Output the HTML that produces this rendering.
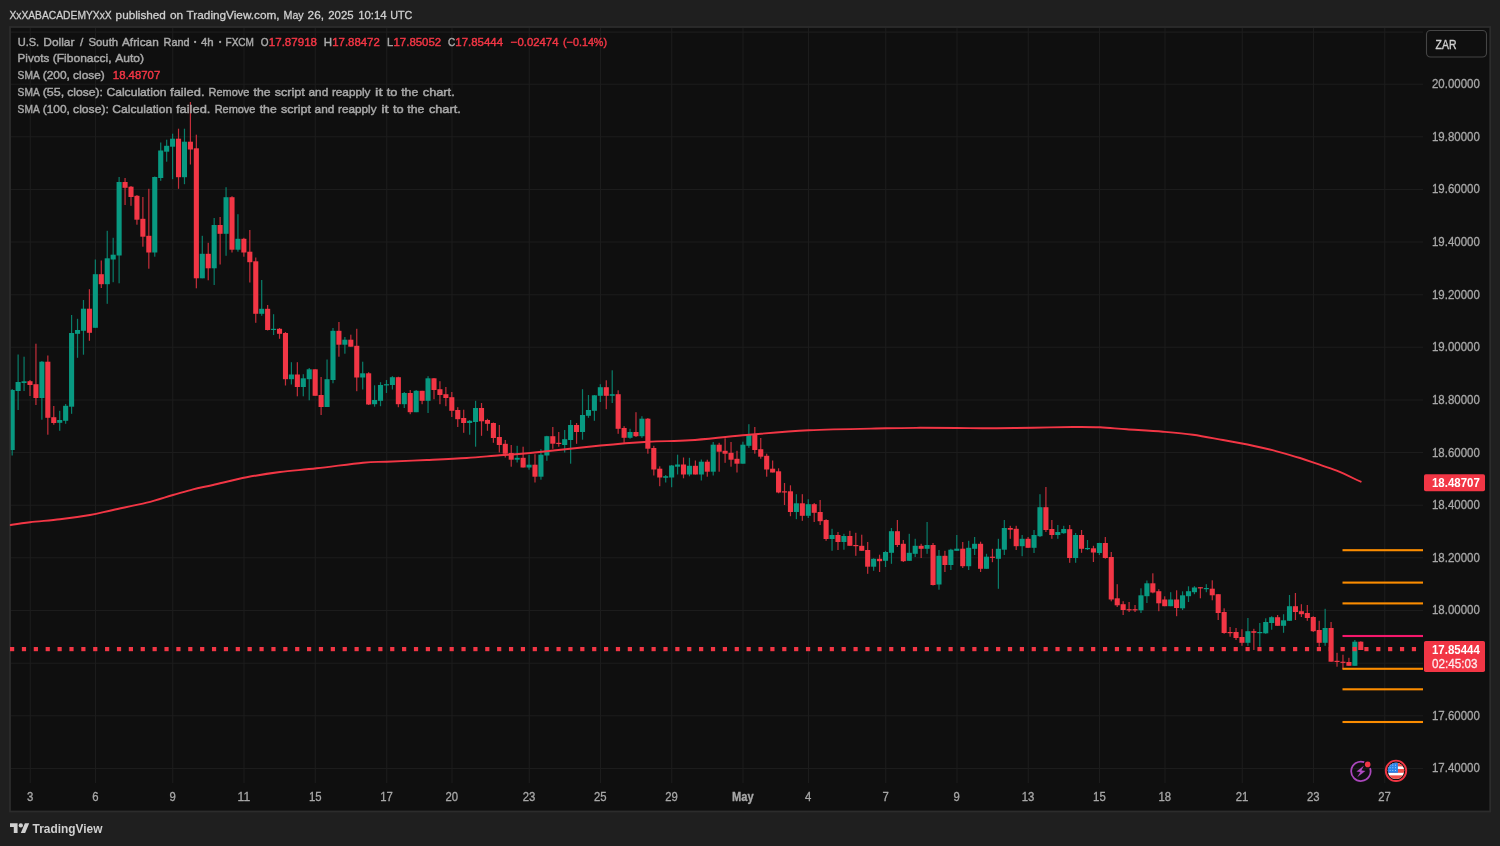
<!DOCTYPE html>
<html><head><meta charset="utf-8"><title>USDZAR chart</title>
<style>html,body{margin:0;padding:0;background:#1f1f1f;width:1500px;height:846px;overflow:hidden;font-family:'Liberation Sans', sans-serif;}</style>
</head><body>
<svg width="1500" height="846" viewBox="0 0 1500 846" style="display:block;position:absolute;left:0;top:0;will-change:transform">
<rect x="0" y="0" width="1500" height="846" fill="#1f1f1f"/>
<rect x="10" y="27" width="1480.2" height="784.5" fill="#0f0f0f" stroke="#2c2c2c" stroke-width="1.8"/>
<g stroke="#1c1c1c" stroke-width="1.1">
<line x1="30.25" y1="28" x2="30.25" y2="783"/>
<line x1="95.5" y1="28" x2="95.5" y2="783"/>
<line x1="172.75" y1="28" x2="172.75" y2="783"/>
<line x1="244.0" y1="28" x2="244.0" y2="783"/>
<line x1="315.25" y1="28" x2="315.25" y2="783"/>
<line x1="386.75" y1="28" x2="386.75" y2="783"/>
<line x1="452.0" y1="28" x2="452.0" y2="783"/>
<line x1="529.25" y1="28" x2="529.25" y2="783"/>
<line x1="600.5" y1="28" x2="600.5" y2="783"/>
<line x1="671.75" y1="28" x2="671.75" y2="783"/>
<line x1="743.0" y1="28" x2="743.0" y2="783"/>
<line x1="808.5" y1="28" x2="808.5" y2="783"/>
<line x1="885.75" y1="28" x2="885.75" y2="783"/>
<line x1="957.0" y1="28" x2="957.0" y2="783"/>
<line x1="1028.25" y1="28" x2="1028.25" y2="783"/>
<line x1="1099.5" y1="28" x2="1099.5" y2="783"/>
<line x1="1165.0" y1="28" x2="1165.0" y2="783"/>
<line x1="1242.25" y1="28" x2="1242.25" y2="783"/>
<line x1="1313.5" y1="28" x2="1313.5" y2="783"/>
<line x1="1384.75" y1="28" x2="1384.75" y2="783"/>
<line x1="11" y1="32.1" x2="1423" y2="32.1"/>
<line x1="11" y1="84.25" x2="1423" y2="84.25"/>
<line x1="11" y1="136.75" x2="1423" y2="136.75"/>
<line x1="11" y1="189.5" x2="1423" y2="189.5"/>
<line x1="11" y1="242.0" x2="1423" y2="242.0"/>
<line x1="11" y1="294.75" x2="1423" y2="294.75"/>
<line x1="11" y1="347.25" x2="1423" y2="347.25"/>
<line x1="11" y1="400.0" x2="1423" y2="400.0"/>
<line x1="11" y1="452.5" x2="1423" y2="452.5"/>
<line x1="11" y1="505.25" x2="1423" y2="505.25"/>
<line x1="11" y1="557.75" x2="1423" y2="557.75"/>
<line x1="11" y1="610.5" x2="1423" y2="610.5"/>
<line x1="11" y1="663.25" x2="1423" y2="663.25"/>
<line x1="11" y1="715.75" x2="1423" y2="715.75"/>
<line x1="11" y1="768.5" x2="1423" y2="768.5"/>
</g>
<clipPath id="pc"><rect x="10.7" y="27.7" width="1413" height="782"/></clipPath>
<g clip-path="url(#pc)">
<rect x="11.58" y="389.0" width="1.2" height="66.5" fill="#089981" opacity="0.8"/>
<rect x="9.63" y="390.0" width="5.1" height="60.0" fill="#089981"/>
<rect x="17.52" y="354.5" width="1.2" height="55.5" fill="#089981" opacity="0.8"/>
<rect x="15.57" y="382.0" width="5.1" height="9.0" fill="#089981"/>
<rect x="23.46" y="356.7" width="1.2" height="34.3" fill="#089981" opacity="0.8"/>
<rect x="21.51" y="381.3" width="5.1" height="1.7" fill="#089981"/>
<rect x="29.40" y="380.0" width="1.2" height="16.0" fill="#f23645" opacity="0.8"/>
<rect x="27.45" y="381.2" width="5.1" height="3.8" fill="#f23645"/>
<rect x="35.34" y="343.7" width="1.2" height="61.3" fill="#f23645" opacity="0.8"/>
<rect x="33.39" y="384.2" width="5.1" height="13.8" fill="#f23645"/>
<rect x="41.28" y="361.0" width="1.2" height="58.7" fill="#089981" opacity="0.8"/>
<rect x="39.34" y="361.7" width="5.1" height="36.3" fill="#089981"/>
<rect x="47.23" y="355.5" width="1.2" height="79.2" fill="#f23645" opacity="0.8"/>
<rect x="45.28" y="361.7" width="5.1" height="56.1" fill="#f23645"/>
<rect x="53.17" y="406.0" width="1.2" height="18.7" fill="#f23645" opacity="0.8"/>
<rect x="51.22" y="417.2" width="5.1" height="5.8" fill="#f23645"/>
<rect x="59.11" y="410.8" width="1.2" height="20.0" fill="#089981" opacity="0.8"/>
<rect x="57.16" y="420.0" width="5.1" height="2.8" fill="#089981"/>
<rect x="65.05" y="404.0" width="1.2" height="19.8" fill="#089981" opacity="0.8"/>
<rect x="63.10" y="405.8" width="5.1" height="15.0" fill="#089981"/>
<rect x="70.99" y="315.0" width="1.2" height="98.8" fill="#089981" opacity="0.8"/>
<rect x="69.04" y="333.0" width="5.1" height="73.7" fill="#089981"/>
<rect x="76.93" y="318.8" width="1.2" height="39.0" fill="#089981" opacity="0.8"/>
<rect x="74.98" y="330.0" width="5.1" height="3.8" fill="#089981"/>
<rect x="82.87" y="300.0" width="1.2" height="54.7" fill="#089981" opacity="0.8"/>
<rect x="80.92" y="308.7" width="5.1" height="22.1" fill="#089981"/>
<rect x="88.81" y="289.2" width="1.2" height="51.6" fill="#f23645" opacity="0.8"/>
<rect x="86.86" y="308.7" width="5.1" height="24.1" fill="#f23645"/>
<rect x="94.75" y="259.5" width="1.2" height="68.3" fill="#089981" opacity="0.8"/>
<rect x="92.80" y="274.2" width="5.1" height="53.6" fill="#089981"/>
<rect x="100.69" y="260.5" width="1.2" height="27.5" fill="#f23645" opacity="0.8"/>
<rect x="98.74" y="274.2" width="5.1" height="10.0" fill="#f23645"/>
<rect x="106.64" y="230.8" width="1.2" height="73.0" fill="#089981" opacity="0.8"/>
<rect x="104.69" y="258.3" width="5.1" height="25.9" fill="#089981"/>
<rect x="112.58" y="237.8" width="1.2" height="44.4" fill="#089981" opacity="0.8"/>
<rect x="110.63" y="254.7" width="5.1" height="4.8" fill="#089981"/>
<rect x="118.52" y="177.0" width="1.2" height="106.3" fill="#089981" opacity="0.8"/>
<rect x="116.57" y="182.0" width="5.1" height="73.5" fill="#089981"/>
<rect x="124.46" y="178.0" width="1.2" height="27.0" fill="#f23645" opacity="0.8"/>
<rect x="122.51" y="182.0" width="5.1" height="5.8" fill="#f23645"/>
<rect x="130.40" y="186.0" width="1.2" height="19.8" fill="#f23645" opacity="0.8"/>
<rect x="128.45" y="186.7" width="5.1" height="10.3" fill="#f23645"/>
<rect x="136.34" y="195.0" width="1.2" height="29.7" fill="#f23645" opacity="0.8"/>
<rect x="134.39" y="195.8" width="5.1" height="23.9" fill="#f23645"/>
<rect x="142.28" y="197.0" width="1.2" height="49.7" fill="#f23645" opacity="0.8"/>
<rect x="140.33" y="218.8" width="5.1" height="17.9" fill="#f23645"/>
<rect x="148.22" y="188.8" width="1.2" height="79.9" fill="#f23645" opacity="0.8"/>
<rect x="146.27" y="235.8" width="5.1" height="16.7" fill="#f23645"/>
<rect x="154.16" y="176.5" width="1.2" height="80.2" fill="#089981" opacity="0.8"/>
<rect x="152.21" y="177.0" width="5.1" height="75.5" fill="#089981"/>
<rect x="160.11" y="142.5" width="1.2" height="38.3" fill="#089981" opacity="0.8"/>
<rect x="158.16" y="150.5" width="5.1" height="27.5" fill="#089981"/>
<rect x="166.05" y="139.7" width="1.2" height="22.0" fill="#089981" opacity="0.8"/>
<rect x="164.10" y="145.8" width="5.1" height="5.9" fill="#089981"/>
<rect x="171.99" y="133.7" width="1.2" height="45.5" fill="#089981" opacity="0.8"/>
<rect x="170.04" y="138.7" width="5.1" height="8.0" fill="#089981"/>
<rect x="177.93" y="128.7" width="1.2" height="60.1" fill="#f23645" opacity="0.8"/>
<rect x="175.98" y="138.7" width="5.1" height="38.5" fill="#f23645"/>
<rect x="183.87" y="128.7" width="1.2" height="55.5" fill="#089981" opacity="0.8"/>
<rect x="181.92" y="141.7" width="5.1" height="35.5" fill="#089981"/>
<rect x="189.81" y="102.0" width="1.2" height="62.5" fill="#f23645" opacity="0.8"/>
<rect x="187.86" y="141.7" width="5.1" height="7.8" fill="#f23645"/>
<rect x="195.75" y="134.7" width="1.2" height="153.6" fill="#f23645" opacity="0.8"/>
<rect x="193.80" y="148.3" width="5.1" height="130.0" fill="#f23645"/>
<rect x="201.69" y="235.8" width="1.2" height="42.5" fill="#089981" opacity="0.8"/>
<rect x="199.74" y="253.8" width="5.1" height="24.5" fill="#089981"/>
<rect x="207.63" y="242.8" width="1.2" height="37.5" fill="#f23645" opacity="0.8"/>
<rect x="205.68" y="253.8" width="5.1" height="14.5" fill="#f23645"/>
<rect x="213.57" y="218.0" width="1.2" height="67.0" fill="#089981" opacity="0.8"/>
<rect x="211.62" y="225.0" width="5.1" height="43.3" fill="#089981"/>
<rect x="219.52" y="217.0" width="1.2" height="47.5" fill="#f23645" opacity="0.8"/>
<rect x="217.56" y="225.0" width="5.1" height="8.8" fill="#f23645"/>
<rect x="225.46" y="187.2" width="1.2" height="68.6" fill="#089981" opacity="0.8"/>
<rect x="223.51" y="197.2" width="5.1" height="36.6" fill="#089981"/>
<rect x="231.40" y="196.2" width="1.2" height="56.3" fill="#f23645" opacity="0.8"/>
<rect x="229.45" y="197.2" width="5.1" height="52.5" fill="#f23645"/>
<rect x="237.34" y="214.2" width="1.2" height="37.5" fill="#089981" opacity="0.8"/>
<rect x="235.39" y="238.8" width="5.1" height="10.9" fill="#089981"/>
<rect x="243.28" y="237.8" width="1.2" height="18.9" fill="#f23645" opacity="0.8"/>
<rect x="241.33" y="238.8" width="5.1" height="13.7" fill="#f23645"/>
<rect x="249.22" y="230.0" width="1.2" height="52.5" fill="#f23645" opacity="0.8"/>
<rect x="247.27" y="251.7" width="5.1" height="10.5" fill="#f23645"/>
<rect x="255.16" y="257.5" width="1.2" height="65.3" fill="#f23645" opacity="0.8"/>
<rect x="253.21" y="261.3" width="5.1" height="52.5" fill="#f23645"/>
<rect x="261.10" y="280.0" width="1.2" height="35.8" fill="#089981" opacity="0.8"/>
<rect x="259.15" y="308.8" width="5.1" height="5.0" fill="#089981"/>
<rect x="267.04" y="305.0" width="1.2" height="25.5" fill="#f23645" opacity="0.8"/>
<rect x="265.09" y="308.8" width="5.1" height="21.2" fill="#f23645"/>
<rect x="272.98" y="314.2" width="1.2" height="20.8" fill="#089981" opacity="0.8"/>
<rect x="271.03" y="328.8" width="5.1" height="1.2" fill="#089981"/>
<rect x="278.92" y="328.0" width="1.2" height="10.8" fill="#f23645" opacity="0.8"/>
<rect x="276.97" y="328.8" width="5.1" height="5.0" fill="#f23645"/>
<rect x="284.87" y="332.0" width="1.2" height="53.5" fill="#f23645" opacity="0.8"/>
<rect x="282.92" y="333.0" width="5.1" height="46.2" fill="#f23645"/>
<rect x="290.81" y="362.2" width="1.2" height="22.3" fill="#089981" opacity="0.8"/>
<rect x="288.86" y="374.5" width="5.1" height="4.7" fill="#089981"/>
<rect x="296.75" y="362.2" width="1.2" height="34.1" fill="#f23645" opacity="0.8"/>
<rect x="294.80" y="374.5" width="5.1" height="12.5" fill="#f23645"/>
<rect x="302.69" y="374.2" width="1.2" height="22.1" fill="#089981" opacity="0.8"/>
<rect x="300.74" y="378.3" width="5.1" height="8.7" fill="#089981"/>
<rect x="308.63" y="368.0" width="1.2" height="32.3" fill="#089981" opacity="0.8"/>
<rect x="306.68" y="369.3" width="5.1" height="9.9" fill="#089981"/>
<rect x="314.57" y="369.3" width="1.2" height="26.5" fill="#f23645" opacity="0.8"/>
<rect x="312.62" y="369.3" width="5.1" height="26.5" fill="#f23645"/>
<rect x="320.51" y="377.0" width="1.2" height="38.0" fill="#f23645" opacity="0.8"/>
<rect x="318.56" y="395.0" width="5.1" height="12.0" fill="#f23645"/>
<rect x="326.45" y="359.5" width="1.2" height="47.5" fill="#089981" opacity="0.8"/>
<rect x="324.50" y="379.2" width="5.1" height="27.8" fill="#089981"/>
<rect x="332.39" y="328.0" width="1.2" height="55.3" fill="#089981" opacity="0.8"/>
<rect x="330.44" y="330.8" width="5.1" height="49.2" fill="#089981"/>
<rect x="338.33" y="322.0" width="1.2" height="34.7" fill="#f23645" opacity="0.8"/>
<rect x="336.38" y="330.8" width="5.1" height="13.9" fill="#f23645"/>
<rect x="344.28" y="337.0" width="1.2" height="16.7" fill="#089981" opacity="0.8"/>
<rect x="342.33" y="339.7" width="5.1" height="5.0" fill="#089981"/>
<rect x="350.22" y="334.7" width="1.2" height="12.0" fill="#f23645" opacity="0.8"/>
<rect x="348.27" y="339.7" width="5.1" height="7.0" fill="#f23645"/>
<rect x="356.16" y="328.8" width="1.2" height="62.4" fill="#f23645" opacity="0.8"/>
<rect x="354.21" y="345.8" width="5.1" height="31.7" fill="#f23645"/>
<rect x="362.10" y="361.7" width="1.2" height="27.8" fill="#089981" opacity="0.8"/>
<rect x="360.15" y="373.3" width="5.1" height="4.2" fill="#089981"/>
<rect x="368.04" y="372.2" width="1.2" height="32.8" fill="#f23645" opacity="0.8"/>
<rect x="366.09" y="373.3" width="5.1" height="31.2" fill="#f23645"/>
<rect x="373.98" y="385.3" width="1.2" height="21.4" fill="#089981" opacity="0.8"/>
<rect x="372.03" y="400.0" width="5.1" height="4.2" fill="#089981"/>
<rect x="379.92" y="382.2" width="1.2" height="24.0" fill="#089981" opacity="0.8"/>
<rect x="377.97" y="385.0" width="5.1" height="15.8" fill="#089981"/>
<rect x="385.86" y="380.0" width="1.2" height="13.0" fill="#089981" opacity="0.8"/>
<rect x="383.91" y="384.2" width="5.1" height="1.2" fill="#089981"/>
<rect x="391.80" y="376.2" width="1.2" height="13.3" fill="#089981" opacity="0.8"/>
<rect x="389.85" y="377.2" width="5.1" height="7.8" fill="#089981"/>
<rect x="397.74" y="376.7" width="1.2" height="30.5" fill="#f23645" opacity="0.8"/>
<rect x="395.79" y="377.2" width="5.1" height="27.0" fill="#f23645"/>
<rect x="403.69" y="392.0" width="1.2" height="16.0" fill="#089981" opacity="0.8"/>
<rect x="401.74" y="393.0" width="5.1" height="11.2" fill="#089981"/>
<rect x="409.63" y="390.0" width="1.2" height="24.2" fill="#f23645" opacity="0.8"/>
<rect x="407.68" y="393.0" width="5.1" height="19.2" fill="#f23645"/>
<rect x="415.57" y="390.0" width="1.2" height="22.2" fill="#089981" opacity="0.8"/>
<rect x="413.62" y="390.8" width="5.1" height="21.4" fill="#089981"/>
<rect x="421.51" y="390.8" width="1.2" height="13.4" fill="#f23645" opacity="0.8"/>
<rect x="419.56" y="390.8" width="5.1" height="10.0" fill="#f23645"/>
<rect x="427.45" y="376.2" width="1.2" height="36.8" fill="#089981" opacity="0.8"/>
<rect x="425.50" y="378.3" width="5.1" height="22.5" fill="#089981"/>
<rect x="433.39" y="378.0" width="1.2" height="21.2" fill="#f23645" opacity="0.8"/>
<rect x="431.44" y="378.3" width="5.1" height="11.7" fill="#f23645"/>
<rect x="439.33" y="381.2" width="1.2" height="23.0" fill="#f23645" opacity="0.8"/>
<rect x="437.38" y="389.2" width="5.1" height="5.8" fill="#f23645"/>
<rect x="445.27" y="387.0" width="1.2" height="19.2" fill="#f23645" opacity="0.8"/>
<rect x="443.32" y="394.2" width="5.1" height="3.8" fill="#f23645"/>
<rect x="451.21" y="392.0" width="1.2" height="25.0" fill="#f23645" opacity="0.8"/>
<rect x="449.26" y="397.2" width="5.1" height="13.6" fill="#f23645"/>
<rect x="457.15" y="407.2" width="1.2" height="19.8" fill="#f23645" opacity="0.8"/>
<rect x="455.20" y="410.0" width="5.1" height="9.2" fill="#f23645"/>
<rect x="463.10" y="409.7" width="1.2" height="23.1" fill="#f23645" opacity="0.8"/>
<rect x="461.15" y="418.0" width="5.1" height="5.0" fill="#f23645"/>
<rect x="469.04" y="420.0" width="1.2" height="14.7" fill="#089981" opacity="0.8"/>
<rect x="467.09" y="420.8" width="5.1" height="2.2" fill="#089981"/>
<rect x="474.98" y="400.8" width="1.2" height="45.9" fill="#089981" opacity="0.8"/>
<rect x="473.03" y="408.0" width="5.1" height="14.0" fill="#089981"/>
<rect x="480.92" y="403.0" width="1.2" height="32.8" fill="#f23645" opacity="0.8"/>
<rect x="478.97" y="408.0" width="5.1" height="13.3" fill="#f23645"/>
<rect x="486.86" y="418.8" width="1.2" height="12.0" fill="#f23645" opacity="0.8"/>
<rect x="484.91" y="420.0" width="5.1" height="3.8" fill="#f23645"/>
<rect x="492.80" y="422.5" width="1.2" height="20.3" fill="#f23645" opacity="0.8"/>
<rect x="490.85" y="423.0" width="5.1" height="15.0" fill="#f23645"/>
<rect x="498.74" y="425.0" width="1.2" height="27.5" fill="#f23645" opacity="0.8"/>
<rect x="496.79" y="437.0" width="5.1" height="8.0" fill="#f23645"/>
<rect x="504.68" y="440.0" width="1.2" height="17.5" fill="#f23645" opacity="0.8"/>
<rect x="502.73" y="443.8" width="5.1" height="10.0" fill="#f23645"/>
<rect x="510.62" y="445.0" width="1.2" height="21.7" fill="#f23645" opacity="0.8"/>
<rect x="508.67" y="453.0" width="5.1" height="6.7" fill="#f23645"/>
<rect x="516.56" y="445.8" width="1.2" height="16.7" fill="#089981" opacity="0.8"/>
<rect x="514.62" y="457.8" width="5.1" height="1.9" fill="#089981"/>
<rect x="522.51" y="446.7" width="1.2" height="20.8" fill="#f23645" opacity="0.8"/>
<rect x="520.56" y="457.8" width="5.1" height="9.7" fill="#f23645"/>
<rect x="528.45" y="454.7" width="1.2" height="15.0" fill="#089981" opacity="0.8"/>
<rect x="526.50" y="464.7" width="5.1" height="2.8" fill="#089981"/>
<rect x="534.39" y="454.2" width="1.2" height="28.3" fill="#f23645" opacity="0.8"/>
<rect x="532.44" y="464.7" width="5.1" height="12.0" fill="#f23645"/>
<rect x="540.33" y="449.2" width="1.2" height="30.5" fill="#089981" opacity="0.8"/>
<rect x="538.38" y="454.7" width="5.1" height="22.0" fill="#089981"/>
<rect x="546.27" y="435.8" width="1.2" height="25.0" fill="#089981" opacity="0.8"/>
<rect x="544.32" y="436.2" width="5.1" height="19.3" fill="#089981"/>
<rect x="552.21" y="427.0" width="1.2" height="21.8" fill="#f23645" opacity="0.8"/>
<rect x="550.26" y="436.2" width="5.1" height="7.5" fill="#f23645"/>
<rect x="558.15" y="432.0" width="1.2" height="14.7" fill="#f23645" opacity="0.8"/>
<rect x="556.20" y="442.8" width="5.1" height="1.2" fill="#f23645"/>
<rect x="564.09" y="430.0" width="1.2" height="22.5" fill="#089981" opacity="0.8"/>
<rect x="562.14" y="439.2" width="5.1" height="5.8" fill="#089981"/>
<rect x="570.03" y="420.0" width="1.2" height="43.7" fill="#089981" opacity="0.8"/>
<rect x="568.08" y="425.0" width="5.1" height="15.0" fill="#089981"/>
<rect x="575.97" y="423.0" width="1.2" height="20.8" fill="#f23645" opacity="0.8"/>
<rect x="574.02" y="425.0" width="5.1" height="7.0" fill="#f23645"/>
<rect x="581.92" y="389.2" width="1.2" height="50.5" fill="#089981" opacity="0.8"/>
<rect x="579.97" y="415.0" width="5.1" height="17.0" fill="#089981"/>
<rect x="587.86" y="395.0" width="1.2" height="22.8" fill="#089981" opacity="0.8"/>
<rect x="585.91" y="410.0" width="5.1" height="5.8" fill="#089981"/>
<rect x="593.80" y="395.0" width="1.2" height="25.8" fill="#089981" opacity="0.8"/>
<rect x="591.85" y="395.3" width="5.1" height="15.5" fill="#089981"/>
<rect x="599.74" y="384.2" width="1.2" height="17.8" fill="#089981" opacity="0.8"/>
<rect x="597.79" y="387.2" width="5.1" height="8.6" fill="#089981"/>
<rect x="605.68" y="380.3" width="1.2" height="28.9" fill="#f23645" opacity="0.8"/>
<rect x="603.73" y="387.2" width="5.1" height="8.6" fill="#f23645"/>
<rect x="611.62" y="370.3" width="1.2" height="32.7" fill="#089981" opacity="0.8"/>
<rect x="609.67" y="394.2" width="5.1" height="1.6" fill="#089981"/>
<rect x="617.56" y="390.3" width="1.2" height="43.5" fill="#f23645" opacity="0.8"/>
<rect x="615.61" y="394.2" width="5.1" height="34.6" fill="#f23645"/>
<rect x="623.50" y="426.2" width="1.2" height="16.6" fill="#f23645" opacity="0.8"/>
<rect x="621.55" y="428.0" width="5.1" height="9.8" fill="#f23645"/>
<rect x="629.44" y="428.8" width="1.2" height="9.9" fill="#089981" opacity="0.8"/>
<rect x="627.49" y="432.0" width="5.1" height="5.8" fill="#089981"/>
<rect x="635.38" y="412.2" width="1.2" height="24.8" fill="#f23645" opacity="0.8"/>
<rect x="633.43" y="432.0" width="5.1" height="4.2" fill="#f23645"/>
<rect x="641.33" y="416.2" width="1.2" height="21.6" fill="#089981" opacity="0.8"/>
<rect x="639.38" y="418.7" width="5.1" height="17.5" fill="#089981"/>
<rect x="647.27" y="418.0" width="1.2" height="35.7" fill="#f23645" opacity="0.8"/>
<rect x="645.32" y="418.7" width="5.1" height="30.0" fill="#f23645"/>
<rect x="653.21" y="445.8" width="1.2" height="29.7" fill="#f23645" opacity="0.8"/>
<rect x="651.26" y="448.0" width="5.1" height="21.5" fill="#f23645"/>
<rect x="659.15" y="466.3" width="1.2" height="19.9" fill="#f23645" opacity="0.8"/>
<rect x="657.20" y="468.7" width="5.1" height="8.8" fill="#f23645"/>
<rect x="665.09" y="475.0" width="1.2" height="7.5" fill="#089981" opacity="0.8"/>
<rect x="663.14" y="476.2" width="5.1" height="1.6" fill="#089981"/>
<rect x="671.03" y="465.0" width="1.2" height="22.2" fill="#089981" opacity="0.8"/>
<rect x="669.08" y="465.5" width="5.1" height="12.0" fill="#089981"/>
<rect x="676.97" y="454.7" width="1.2" height="19.8" fill="#089981" opacity="0.8"/>
<rect x="675.02" y="464.5" width="5.1" height="2.2" fill="#089981"/>
<rect x="682.91" y="457.5" width="1.2" height="20.8" fill="#f23645" opacity="0.8"/>
<rect x="680.96" y="464.5" width="5.1" height="10.0" fill="#f23645"/>
<rect x="688.85" y="457.8" width="1.2" height="18.5" fill="#089981" opacity="0.8"/>
<rect x="686.90" y="465.8" width="5.1" height="8.7" fill="#089981"/>
<rect x="694.79" y="460.5" width="1.2" height="14.0" fill="#f23645" opacity="0.8"/>
<rect x="692.85" y="465.8" width="5.1" height="8.7" fill="#f23645"/>
<rect x="700.74" y="459.5" width="1.2" height="21.0" fill="#089981" opacity="0.8"/>
<rect x="698.79" y="461.7" width="5.1" height="12.8" fill="#089981"/>
<rect x="706.68" y="459.7" width="1.2" height="17.0" fill="#f23645" opacity="0.8"/>
<rect x="704.73" y="461.7" width="5.1" height="10.0" fill="#f23645"/>
<rect x="712.62" y="442.0" width="1.2" height="33.5" fill="#089981" opacity="0.8"/>
<rect x="710.67" y="444.7" width="5.1" height="27.0" fill="#089981"/>
<rect x="718.56" y="442.8" width="1.2" height="28.9" fill="#f23645" opacity="0.8"/>
<rect x="716.61" y="444.7" width="5.1" height="7.0" fill="#f23645"/>
<rect x="724.50" y="438.3" width="1.2" height="24.5" fill="#f23645" opacity="0.8"/>
<rect x="722.55" y="450.8" width="5.1" height="2.9" fill="#f23645"/>
<rect x="730.44" y="442.0" width="1.2" height="24.7" fill="#f23645" opacity="0.8"/>
<rect x="728.49" y="452.8" width="5.1" height="6.9" fill="#f23645"/>
<rect x="736.38" y="450.8" width="1.2" height="21.7" fill="#f23645" opacity="0.8"/>
<rect x="734.43" y="458.8" width="5.1" height="4.9" fill="#f23645"/>
<rect x="742.32" y="441.7" width="1.2" height="22.0" fill="#089981" opacity="0.8"/>
<rect x="740.37" y="444.7" width="5.1" height="19.0" fill="#089981"/>
<rect x="748.26" y="424.2" width="1.2" height="23.6" fill="#089981" opacity="0.8"/>
<rect x="746.31" y="434.2" width="5.1" height="11.6" fill="#089981"/>
<rect x="754.20" y="427.0" width="1.2" height="26.7" fill="#f23645" opacity="0.8"/>
<rect x="752.25" y="434.2" width="5.1" height="15.8" fill="#f23645"/>
<rect x="760.15" y="438.0" width="1.2" height="20.7" fill="#f23645" opacity="0.8"/>
<rect x="758.20" y="449.2" width="5.1" height="7.5" fill="#f23645"/>
<rect x="766.09" y="453.7" width="1.2" height="23.0" fill="#f23645" opacity="0.8"/>
<rect x="764.14" y="455.8" width="5.1" height="13.7" fill="#f23645"/>
<rect x="772.03" y="460.5" width="1.2" height="12.0" fill="#f23645" opacity="0.8"/>
<rect x="770.08" y="468.7" width="5.1" height="3.8" fill="#f23645"/>
<rect x="777.97" y="468.3" width="1.2" height="25.0" fill="#f23645" opacity="0.8"/>
<rect x="776.02" y="471.3" width="5.1" height="21.2" fill="#f23645"/>
<rect x="783.91" y="483.0" width="1.2" height="22.0" fill="#f23645" opacity="0.8"/>
<rect x="781.96" y="491.3" width="5.1" height="1.2" fill="#f23645"/>
<rect x="789.85" y="485.3" width="1.2" height="30.9" fill="#f23645" opacity="0.8"/>
<rect x="787.90" y="491.3" width="5.1" height="20.7" fill="#f23645"/>
<rect x="795.79" y="494.2" width="1.2" height="25.0" fill="#089981" opacity="0.8"/>
<rect x="793.84" y="503.3" width="5.1" height="8.7" fill="#089981"/>
<rect x="801.73" y="494.2" width="1.2" height="26.6" fill="#f23645" opacity="0.8"/>
<rect x="799.78" y="503.3" width="5.1" height="12.5" fill="#f23645"/>
<rect x="807.67" y="499.2" width="1.2" height="18.8" fill="#089981" opacity="0.8"/>
<rect x="805.72" y="504.2" width="5.1" height="11.6" fill="#089981"/>
<rect x="813.61" y="503.0" width="1.2" height="19.0" fill="#f23645" opacity="0.8"/>
<rect x="811.66" y="504.2" width="5.1" height="8.6" fill="#f23645"/>
<rect x="819.56" y="500.0" width="1.2" height="25.0" fill="#f23645" opacity="0.8"/>
<rect x="817.61" y="512.0" width="5.1" height="9.2" fill="#f23645"/>
<rect x="825.50" y="519.2" width="1.2" height="21.6" fill="#f23645" opacity="0.8"/>
<rect x="823.55" y="520.0" width="5.1" height="19.0" fill="#f23645"/>
<rect x="831.44" y="528.8" width="1.2" height="22.0" fill="#089981" opacity="0.8"/>
<rect x="829.49" y="535.0" width="5.1" height="4.0" fill="#089981"/>
<rect x="837.38" y="532.0" width="1.2" height="18.0" fill="#f23645" opacity="0.8"/>
<rect x="835.43" y="535.0" width="5.1" height="7.0" fill="#f23645"/>
<rect x="843.32" y="533.8" width="1.2" height="15.9" fill="#089981" opacity="0.8"/>
<rect x="841.37" y="536.0" width="5.1" height="6.0" fill="#089981"/>
<rect x="849.26" y="530.8" width="1.2" height="15.0" fill="#f23645" opacity="0.8"/>
<rect x="847.31" y="536.0" width="5.1" height="9.8" fill="#f23645"/>
<rect x="855.20" y="532.8" width="1.2" height="23.0" fill="#f23645" opacity="0.8"/>
<rect x="853.25" y="545.0" width="5.1" height="1.2" fill="#f23645"/>
<rect x="861.14" y="534.7" width="1.2" height="16.1" fill="#f23645" opacity="0.8"/>
<rect x="859.19" y="545.8" width="5.1" height="5.0" fill="#f23645"/>
<rect x="867.08" y="542.0" width="1.2" height="31.8" fill="#f23645" opacity="0.8"/>
<rect x="865.13" y="550.0" width="5.1" height="16.7" fill="#f23645"/>
<rect x="873.02" y="558.3" width="1.2" height="12.5" fill="#089981" opacity="0.8"/>
<rect x="871.07" y="558.8" width="5.1" height="7.9" fill="#089981"/>
<rect x="878.97" y="554.7" width="1.2" height="17.3" fill="#f23645" opacity="0.8"/>
<rect x="877.02" y="558.8" width="5.1" height="2.4" fill="#f23645"/>
<rect x="884.91" y="550.8" width="1.2" height="16.2" fill="#089981" opacity="0.8"/>
<rect x="882.96" y="552.0" width="5.1" height="8.8" fill="#089981"/>
<rect x="890.85" y="528.0" width="1.2" height="35.8" fill="#089981" opacity="0.8"/>
<rect x="888.90" y="531.2" width="5.1" height="21.6" fill="#089981"/>
<rect x="896.79" y="520.0" width="1.2" height="27.0" fill="#f23645" opacity="0.8"/>
<rect x="894.84" y="531.2" width="5.1" height="13.8" fill="#f23645"/>
<rect x="902.73" y="540.0" width="1.2" height="22.0" fill="#f23645" opacity="0.8"/>
<rect x="900.78" y="543.8" width="5.1" height="17.4" fill="#f23645"/>
<rect x="908.67" y="533.8" width="1.2" height="27.0" fill="#089981" opacity="0.8"/>
<rect x="906.72" y="552.8" width="5.1" height="8.0" fill="#089981"/>
<rect x="914.61" y="538.8" width="1.2" height="18.2" fill="#089981" opacity="0.8"/>
<rect x="912.66" y="545.8" width="5.1" height="8.0" fill="#089981"/>
<rect x="920.55" y="543.8" width="1.2" height="14.2" fill="#f23645" opacity="0.8"/>
<rect x="918.60" y="545.8" width="5.1" height="3.0" fill="#f23645"/>
<rect x="926.49" y="522.0" width="1.2" height="31.8" fill="#089981" opacity="0.8"/>
<rect x="924.54" y="545.0" width="5.1" height="3.8" fill="#089981"/>
<rect x="932.43" y="543.0" width="1.2" height="42.5" fill="#f23645" opacity="0.8"/>
<rect x="930.49" y="545.0" width="5.1" height="40.0" fill="#f23645"/>
<rect x="938.38" y="550.0" width="1.2" height="39.7" fill="#089981" opacity="0.8"/>
<rect x="936.43" y="555.8" width="5.1" height="28.7" fill="#089981"/>
<rect x="944.32" y="550.8" width="1.2" height="21.2" fill="#f23645" opacity="0.8"/>
<rect x="942.37" y="555.8" width="5.1" height="9.2" fill="#f23645"/>
<rect x="950.26" y="548.8" width="1.2" height="21.2" fill="#089981" opacity="0.8"/>
<rect x="948.31" y="549.7" width="5.1" height="15.3" fill="#089981"/>
<rect x="956.20" y="535.0" width="1.2" height="15.8" fill="#089981" opacity="0.8"/>
<rect x="954.25" y="548.7" width="5.1" height="2.1" fill="#089981"/>
<rect x="962.14" y="542.0" width="1.2" height="26.0" fill="#f23645" opacity="0.8"/>
<rect x="960.19" y="548.7" width="5.1" height="17.5" fill="#f23645"/>
<rect x="968.08" y="540.8" width="1.2" height="29.2" fill="#089981" opacity="0.8"/>
<rect x="966.13" y="547.8" width="5.1" height="18.4" fill="#089981"/>
<rect x="974.02" y="537.0" width="1.2" height="18.0" fill="#089981" opacity="0.8"/>
<rect x="972.07" y="543.8" width="5.1" height="5.0" fill="#089981"/>
<rect x="979.96" y="541.7" width="1.2" height="30.3" fill="#f23645" opacity="0.8"/>
<rect x="978.01" y="543.8" width="5.1" height="25.0" fill="#f23645"/>
<rect x="985.90" y="553.8" width="1.2" height="15.0" fill="#089981" opacity="0.8"/>
<rect x="983.95" y="556.7" width="5.1" height="12.1" fill="#089981"/>
<rect x="991.84" y="548.8" width="1.2" height="13.4" fill="#f23645" opacity="0.8"/>
<rect x="989.89" y="556.7" width="5.1" height="1.2" fill="#f23645"/>
<rect x="997.79" y="538.8" width="1.2" height="50.0" fill="#089981" opacity="0.8"/>
<rect x="995.84" y="548.8" width="5.1" height="10.0" fill="#089981"/>
<rect x="1003.73" y="520.0" width="1.2" height="35.0" fill="#089981" opacity="0.8"/>
<rect x="1001.78" y="528.0" width="5.1" height="21.7" fill="#089981"/>
<rect x="1009.67" y="525.8" width="1.2" height="13.0" fill="#f23645" opacity="0.8"/>
<rect x="1007.72" y="528.0" width="5.1" height="1.7" fill="#f23645"/>
<rect x="1015.61" y="525.8" width="1.2" height="24.2" fill="#f23645" opacity="0.8"/>
<rect x="1013.66" y="528.8" width="5.1" height="17.4" fill="#f23645"/>
<rect x="1021.55" y="535.0" width="1.2" height="21.2" fill="#089981" opacity="0.8"/>
<rect x="1019.60" y="538.8" width="5.1" height="7.4" fill="#089981"/>
<rect x="1027.49" y="537.0" width="1.2" height="10.8" fill="#f23645" opacity="0.8"/>
<rect x="1025.54" y="538.8" width="5.1" height="9.0" fill="#f23645"/>
<rect x="1033.43" y="530.0" width="1.2" height="23.0" fill="#089981" opacity="0.8"/>
<rect x="1031.48" y="535.0" width="5.1" height="12.8" fill="#089981"/>
<rect x="1039.37" y="494.2" width="1.2" height="42.8" fill="#089981" opacity="0.8"/>
<rect x="1037.42" y="507.2" width="5.1" height="29.0" fill="#089981"/>
<rect x="1045.31" y="487.0" width="1.2" height="45.0" fill="#f23645" opacity="0.8"/>
<rect x="1043.36" y="507.2" width="5.1" height="22.8" fill="#f23645"/>
<rect x="1051.26" y="520.0" width="1.2" height="18.8" fill="#f23645" opacity="0.8"/>
<rect x="1049.31" y="529.0" width="5.1" height="6.0" fill="#f23645"/>
<rect x="1057.20" y="525.0" width="1.2" height="13.8" fill="#089981" opacity="0.8"/>
<rect x="1055.25" y="532.0" width="5.1" height="3.0" fill="#089981"/>
<rect x="1063.14" y="525.8" width="1.2" height="8.0" fill="#089981" opacity="0.8"/>
<rect x="1061.19" y="529.0" width="5.1" height="4.2" fill="#089981"/>
<rect x="1069.08" y="525.0" width="1.2" height="37.8" fill="#f23645" opacity="0.8"/>
<rect x="1067.13" y="529.2" width="5.1" height="28.8" fill="#f23645"/>
<rect x="1075.02" y="533.0" width="1.2" height="29.8" fill="#089981" opacity="0.8"/>
<rect x="1073.07" y="535.0" width="5.1" height="23.0" fill="#089981"/>
<rect x="1080.96" y="530.0" width="1.2" height="22.8" fill="#f23645" opacity="0.8"/>
<rect x="1079.01" y="535.0" width="5.1" height="13.8" fill="#f23645"/>
<rect x="1086.90" y="540.0" width="1.2" height="10.0" fill="#089981" opacity="0.8"/>
<rect x="1084.95" y="548.0" width="5.1" height="1.2" fill="#089981"/>
<rect x="1092.84" y="545.8" width="1.2" height="16.2" fill="#f23645" opacity="0.8"/>
<rect x="1090.89" y="548.3" width="5.1" height="4.2" fill="#f23645"/>
<rect x="1098.78" y="542.8" width="1.2" height="12.2" fill="#089981" opacity="0.8"/>
<rect x="1096.83" y="543.0" width="5.1" height="10.0" fill="#089981"/>
<rect x="1104.72" y="537.0" width="1.2" height="21.7" fill="#f23645" opacity="0.8"/>
<rect x="1102.77" y="543.0" width="5.1" height="15.0" fill="#f23645"/>
<rect x="1110.67" y="552.0" width="1.2" height="49.3" fill="#f23645" opacity="0.8"/>
<rect x="1108.72" y="557.0" width="5.1" height="42.5" fill="#f23645"/>
<rect x="1116.61" y="584.2" width="1.2" height="22.8" fill="#f23645" opacity="0.8"/>
<rect x="1114.66" y="598.3" width="5.1" height="7.0" fill="#f23645"/>
<rect x="1122.55" y="601.2" width="1.2" height="13.8" fill="#f23645" opacity="0.8"/>
<rect x="1120.60" y="604.2" width="5.1" height="5.8" fill="#f23645"/>
<rect x="1128.49" y="602.0" width="1.2" height="10.0" fill="#f23645" opacity="0.8"/>
<rect x="1126.54" y="609.2" width="5.1" height="1.2" fill="#f23645"/>
<rect x="1134.43" y="605.0" width="1.2" height="7.0" fill="#f23645" opacity="0.8"/>
<rect x="1132.48" y="609.2" width="5.1" height="1.2" fill="#f23645"/>
<rect x="1140.37" y="588.3" width="1.2" height="24.7" fill="#089981" opacity="0.8"/>
<rect x="1138.42" y="595.3" width="5.1" height="15.0" fill="#089981"/>
<rect x="1146.31" y="580.5" width="1.2" height="22.5" fill="#089981" opacity="0.8"/>
<rect x="1144.36" y="583.3" width="5.1" height="12.9" fill="#089981"/>
<rect x="1152.25" y="573.3" width="1.2" height="20.0" fill="#f23645" opacity="0.8"/>
<rect x="1150.30" y="583.3" width="5.1" height="9.2" fill="#f23645"/>
<rect x="1158.19" y="589.2" width="1.2" height="22.0" fill="#f23645" opacity="0.8"/>
<rect x="1156.24" y="591.2" width="5.1" height="12.1" fill="#f23645"/>
<rect x="1164.13" y="596.3" width="1.2" height="9.9" fill="#f23645" opacity="0.8"/>
<rect x="1162.18" y="599.5" width="5.1" height="6.7" fill="#f23645"/>
<rect x="1170.08" y="592.2" width="1.2" height="14.0" fill="#089981" opacity="0.8"/>
<rect x="1168.12" y="599.5" width="5.1" height="6.7" fill="#089981"/>
<rect x="1176.02" y="590.3" width="1.2" height="25.9" fill="#f23645" opacity="0.8"/>
<rect x="1174.07" y="599.5" width="5.1" height="8.5" fill="#f23645"/>
<rect x="1181.96" y="591.3" width="1.2" height="18.7" fill="#089981" opacity="0.8"/>
<rect x="1180.01" y="595.3" width="5.1" height="13.0" fill="#089981"/>
<rect x="1187.90" y="586.3" width="1.2" height="15.7" fill="#089981" opacity="0.8"/>
<rect x="1185.95" y="591.2" width="5.1" height="5.0" fill="#089981"/>
<rect x="1193.84" y="586.2" width="1.2" height="8.0" fill="#089981" opacity="0.8"/>
<rect x="1191.89" y="587.5" width="5.1" height="4.7" fill="#089981"/>
<rect x="1199.78" y="587.2" width="1.2" height="11.1" fill="#f23645" opacity="0.8"/>
<rect x="1197.83" y="587.2" width="5.1" height="1.2" fill="#f23645"/>
<rect x="1205.72" y="584.2" width="1.2" height="8.0" fill="#089981" opacity="0.8"/>
<rect x="1203.77" y="588.0" width="5.1" height="1.2" fill="#089981"/>
<rect x="1211.66" y="580.3" width="1.2" height="20.0" fill="#f23645" opacity="0.8"/>
<rect x="1209.71" y="588.7" width="5.1" height="6.6" fill="#f23645"/>
<rect x="1217.60" y="594.2" width="1.2" height="25.8" fill="#f23645" opacity="0.8"/>
<rect x="1215.65" y="594.2" width="5.1" height="18.8" fill="#f23645"/>
<rect x="1223.54" y="608.3" width="1.2" height="25.5" fill="#f23645" opacity="0.8"/>
<rect x="1221.59" y="612.0" width="5.1" height="21.0" fill="#f23645"/>
<rect x="1229.49" y="627.0" width="1.2" height="9.7" fill="#f23645" opacity="0.8"/>
<rect x="1227.54" y="632.0" width="5.1" height="1.2" fill="#f23645"/>
<rect x="1235.43" y="628.0" width="1.2" height="12.0" fill="#f23645" opacity="0.8"/>
<rect x="1233.48" y="632.0" width="5.1" height="6.0" fill="#f23645"/>
<rect x="1241.37" y="629.2" width="1.2" height="16.6" fill="#f23645" opacity="0.8"/>
<rect x="1239.42" y="637.0" width="5.1" height="5.8" fill="#f23645"/>
<rect x="1247.31" y="618.0" width="1.2" height="27.8" fill="#089981" opacity="0.8"/>
<rect x="1245.36" y="631.2" width="5.1" height="11.6" fill="#089981"/>
<rect x="1253.25" y="628.8" width="1.2" height="21.2" fill="#f23645" opacity="0.8"/>
<rect x="1251.30" y="631.2" width="5.1" height="1.6" fill="#f23645"/>
<rect x="1259.19" y="623.0" width="1.2" height="23.7" fill="#089981" opacity="0.8"/>
<rect x="1257.24" y="632.0" width="5.1" height="1.2" fill="#089981"/>
<rect x="1265.13" y="618.3" width="1.2" height="15.5" fill="#089981" opacity="0.8"/>
<rect x="1263.18" y="622.0" width="5.1" height="11.3" fill="#089981"/>
<rect x="1271.07" y="616.2" width="1.2" height="13.5" fill="#089981" opacity="0.8"/>
<rect x="1269.12" y="617.2" width="5.1" height="5.8" fill="#089981"/>
<rect x="1277.01" y="615.0" width="1.2" height="10.8" fill="#f23645" opacity="0.8"/>
<rect x="1275.06" y="617.2" width="5.1" height="8.6" fill="#f23645"/>
<rect x="1282.95" y="614.2" width="1.2" height="18.6" fill="#089981" opacity="0.8"/>
<rect x="1281.00" y="620.3" width="5.1" height="5.5" fill="#089981"/>
<rect x="1288.90" y="595.0" width="1.2" height="25.8" fill="#089981" opacity="0.8"/>
<rect x="1286.95" y="606.2" width="5.1" height="14.6" fill="#089981"/>
<rect x="1294.84" y="593.0" width="1.2" height="27.0" fill="#f23645" opacity="0.8"/>
<rect x="1292.89" y="606.2" width="5.1" height="5.8" fill="#f23645"/>
<rect x="1300.78" y="604.2" width="1.2" height="12.8" fill="#f23645" opacity="0.8"/>
<rect x="1298.83" y="611.2" width="5.1" height="3.0" fill="#f23645"/>
<rect x="1306.72" y="605.0" width="1.2" height="15.8" fill="#f23645" opacity="0.8"/>
<rect x="1304.77" y="613.0" width="5.1" height="5.0" fill="#f23645"/>
<rect x="1312.66" y="616.2" width="1.2" height="15.8" fill="#f23645" opacity="0.8"/>
<rect x="1310.71" y="617.0" width="5.1" height="14.2" fill="#f23645"/>
<rect x="1318.60" y="620.8" width="1.2" height="25.9" fill="#f23645" opacity="0.8"/>
<rect x="1316.65" y="630.0" width="5.1" height="12.8" fill="#f23645"/>
<rect x="1324.54" y="608.8" width="1.2" height="37.0" fill="#089981" opacity="0.8"/>
<rect x="1322.59" y="628.0" width="5.1" height="14.8" fill="#089981"/>
<rect x="1330.48" y="622.0" width="1.2" height="39.7" fill="#f23645" opacity="0.8"/>
<rect x="1328.53" y="628.0" width="5.1" height="33.7" fill="#f23645"/>
<rect x="1336.42" y="652.8" width="1.2" height="13.9" fill="#f23645" opacity="0.8"/>
<rect x="1334.47" y="660.8" width="5.1" height="1.2" fill="#f23645"/>
<rect x="1342.36" y="654.7" width="1.2" height="14.5" fill="#f23645" opacity="0.8"/>
<rect x="1340.41" y="661.7" width="5.1" height="1.2" fill="#f23645"/>
<rect x="1348.31" y="657.8" width="1.2" height="8.0" fill="#f23645" opacity="0.8"/>
<rect x="1346.36" y="662.0" width="5.1" height="3.8" fill="#f23645"/>
<rect x="1354.25" y="640.0" width="1.2" height="25.8" fill="#089981" opacity="0.8"/>
<rect x="1352.30" y="641.7" width="5.1" height="24.1" fill="#089981"/>
<rect x="1360.19" y="641.2" width="1.2" height="8.8" fill="#f23645" opacity="0.8"/>
<rect x="1358.24" y="641.7" width="5.1" height="8.3" fill="#f23645"/>
</g>
<path d="M10.7,525.0 C13.9,524.5 21.8,523.2 30.0,522.3 C38.2,521.3 50.0,520.5 60.0,519.3 C70.0,518.1 81.2,516.5 90.0,515.0 C98.8,513.5 103.5,512.0 113.0,510.0 C122.5,507.9 136.7,505.2 146.7,502.7 C156.7,500.2 165.3,497.2 173.0,495.0 C180.7,492.8 186.3,491.0 193.0,489.3 C199.7,487.6 204.1,487.0 213.0,485.0 C221.9,483.0 235.5,479.5 246.7,477.3 C257.9,475.1 268.3,473.5 280.0,472.0 C291.7,470.5 302.9,469.9 316.7,468.3 C330.5,466.8 351.3,463.8 363.0,462.7 C374.7,461.6 376.1,462.1 386.7,461.7 C397.3,461.2 413.4,460.6 426.7,460.0 C440.0,459.4 454.5,458.8 466.7,458.0 C478.9,457.2 489.4,456.1 500.0,455.3 C510.6,454.5 513.2,454.6 530.0,453.0 C546.8,451.4 580.8,447.4 600.5,445.5 C620.2,443.6 633.1,442.6 648.0,441.7 C662.9,440.8 674.2,441.4 690.0,440.3 C705.8,439.2 723.0,437.0 742.8,435.3 C762.6,433.6 784.9,431.5 808.7,430.3 C832.5,429.1 867.0,428.7 885.5,428.3 C904.0,427.9 908.1,427.9 920.0,427.8 C931.9,427.8 943.9,427.9 956.7,428.0 C969.5,428.1 984.0,428.4 996.7,428.3 C1009.4,428.2 1020.3,427.9 1033.0,427.7 C1045.7,427.5 1061.8,427.1 1073.0,427.0 C1084.2,426.9 1091.0,426.9 1100.0,427.3 C1109.0,427.7 1116.2,428.6 1126.7,429.3 C1137.2,430.0 1152.0,430.8 1163.0,431.7 C1174.0,432.6 1183.0,433.3 1193.0,434.7 C1203.0,436.1 1213.0,438.2 1223.0,440.0 C1233.0,441.8 1244.0,443.8 1253.0,445.7 C1262.0,447.6 1268.9,449.2 1276.7,451.3 C1284.5,453.4 1293.3,455.9 1300.0,458.0 C1306.7,460.1 1310.6,461.6 1316.7,463.7 C1322.8,465.8 1329.4,467.7 1336.7,470.7 C1344.0,473.7 1356.7,479.9 1360.7,481.7" fill="none" stroke="#f23645" stroke-width="1.9" stroke-linejoin="round" stroke-linecap="round"/>
<rect x="1342.5" y="549.15" width="80.5" height="2.1" fill="#fb8c00"/>
<rect x="1342.5" y="581.55" width="80.5" height="2.1" fill="#fb8c00"/>
<rect x="1342.5" y="602.35" width="80.5" height="2.1" fill="#fb8c00"/>
<rect x="1342.5" y="634.95" width="80.5" height="2.1" fill="#f5186c"/>
<rect x="1342.5" y="667.75" width="80.5" height="2.1" fill="#fb8c00"/>
<rect x="1342.5" y="688.25" width="80.5" height="2.1" fill="#fb8c00"/>
<rect x="1342.5" y="720.95" width="80.5" height="2.1" fill="#fb8c00"/>
<g fill="#f23645">
<rect x="10.00" y="647" width="4.2" height="4.2"/>
<rect x="21.88" y="647" width="4.2" height="4.2"/>
<rect x="33.76" y="647" width="4.2" height="4.2"/>
<rect x="45.64" y="647" width="4.2" height="4.2"/>
<rect x="57.52" y="647" width="4.2" height="4.2"/>
<rect x="69.40" y="647" width="4.2" height="4.2"/>
<rect x="81.28" y="647" width="4.2" height="4.2"/>
<rect x="93.16" y="647" width="4.2" height="4.2"/>
<rect x="105.04" y="647" width="4.2" height="4.2"/>
<rect x="116.92" y="647" width="4.2" height="4.2"/>
<rect x="128.80" y="647" width="4.2" height="4.2"/>
<rect x="140.68" y="647" width="4.2" height="4.2"/>
<rect x="152.56" y="647" width="4.2" height="4.2"/>
<rect x="164.44" y="647" width="4.2" height="4.2"/>
<rect x="176.32" y="647" width="4.2" height="4.2"/>
<rect x="188.20" y="647" width="4.2" height="4.2"/>
<rect x="200.08" y="647" width="4.2" height="4.2"/>
<rect x="211.96" y="647" width="4.2" height="4.2"/>
<rect x="223.84" y="647" width="4.2" height="4.2"/>
<rect x="235.72" y="647" width="4.2" height="4.2"/>
<rect x="247.60" y="647" width="4.2" height="4.2"/>
<rect x="259.48" y="647" width="4.2" height="4.2"/>
<rect x="271.36" y="647" width="4.2" height="4.2"/>
<rect x="283.24" y="647" width="4.2" height="4.2"/>
<rect x="295.12" y="647" width="4.2" height="4.2"/>
<rect x="307.00" y="647" width="4.2" height="4.2"/>
<rect x="318.88" y="647" width="4.2" height="4.2"/>
<rect x="330.76" y="647" width="4.2" height="4.2"/>
<rect x="342.64" y="647" width="4.2" height="4.2"/>
<rect x="354.52" y="647" width="4.2" height="4.2"/>
<rect x="366.40" y="647" width="4.2" height="4.2"/>
<rect x="378.28" y="647" width="4.2" height="4.2"/>
<rect x="390.16" y="647" width="4.2" height="4.2"/>
<rect x="402.04" y="647" width="4.2" height="4.2"/>
<rect x="413.92" y="647" width="4.2" height="4.2"/>
<rect x="425.80" y="647" width="4.2" height="4.2"/>
<rect x="437.68" y="647" width="4.2" height="4.2"/>
<rect x="449.56" y="647" width="4.2" height="4.2"/>
<rect x="461.44" y="647" width="4.2" height="4.2"/>
<rect x="473.32" y="647" width="4.2" height="4.2"/>
<rect x="485.20" y="647" width="4.2" height="4.2"/>
<rect x="497.08" y="647" width="4.2" height="4.2"/>
<rect x="508.96" y="647" width="4.2" height="4.2"/>
<rect x="520.84" y="647" width="4.2" height="4.2"/>
<rect x="532.72" y="647" width="4.2" height="4.2"/>
<rect x="544.60" y="647" width="4.2" height="4.2"/>
<rect x="556.48" y="647" width="4.2" height="4.2"/>
<rect x="568.36" y="647" width="4.2" height="4.2"/>
<rect x="580.24" y="647" width="4.2" height="4.2"/>
<rect x="592.12" y="647" width="4.2" height="4.2"/>
<rect x="604.00" y="647" width="4.2" height="4.2"/>
<rect x="615.88" y="647" width="4.2" height="4.2"/>
<rect x="627.76" y="647" width="4.2" height="4.2"/>
<rect x="639.64" y="647" width="4.2" height="4.2"/>
<rect x="651.52" y="647" width="4.2" height="4.2"/>
<rect x="663.40" y="647" width="4.2" height="4.2"/>
<rect x="675.28" y="647" width="4.2" height="4.2"/>
<rect x="687.16" y="647" width="4.2" height="4.2"/>
<rect x="699.04" y="647" width="4.2" height="4.2"/>
<rect x="710.92" y="647" width="4.2" height="4.2"/>
<rect x="722.80" y="647" width="4.2" height="4.2"/>
<rect x="734.68" y="647" width="4.2" height="4.2"/>
<rect x="746.56" y="647" width="4.2" height="4.2"/>
<rect x="758.44" y="647" width="4.2" height="4.2"/>
<rect x="770.32" y="647" width="4.2" height="4.2"/>
<rect x="782.20" y="647" width="4.2" height="4.2"/>
<rect x="794.08" y="647" width="4.2" height="4.2"/>
<rect x="805.96" y="647" width="4.2" height="4.2"/>
<rect x="817.84" y="647" width="4.2" height="4.2"/>
<rect x="829.72" y="647" width="4.2" height="4.2"/>
<rect x="841.60" y="647" width="4.2" height="4.2"/>
<rect x="853.48" y="647" width="4.2" height="4.2"/>
<rect x="865.36" y="647" width="4.2" height="4.2"/>
<rect x="877.24" y="647" width="4.2" height="4.2"/>
<rect x="889.12" y="647" width="4.2" height="4.2"/>
<rect x="901.00" y="647" width="4.2" height="4.2"/>
<rect x="912.88" y="647" width="4.2" height="4.2"/>
<rect x="924.76" y="647" width="4.2" height="4.2"/>
<rect x="936.64" y="647" width="4.2" height="4.2"/>
<rect x="948.52" y="647" width="4.2" height="4.2"/>
<rect x="960.40" y="647" width="4.2" height="4.2"/>
<rect x="972.28" y="647" width="4.2" height="4.2"/>
<rect x="984.16" y="647" width="4.2" height="4.2"/>
<rect x="996.04" y="647" width="4.2" height="4.2"/>
<rect x="1007.92" y="647" width="4.2" height="4.2"/>
<rect x="1019.80" y="647" width="4.2" height="4.2"/>
<rect x="1031.68" y="647" width="4.2" height="4.2"/>
<rect x="1043.56" y="647" width="4.2" height="4.2"/>
<rect x="1055.44" y="647" width="4.2" height="4.2"/>
<rect x="1067.32" y="647" width="4.2" height="4.2"/>
<rect x="1079.20" y="647" width="4.2" height="4.2"/>
<rect x="1091.08" y="647" width="4.2" height="4.2"/>
<rect x="1102.96" y="647" width="4.2" height="4.2"/>
<rect x="1114.84" y="647" width="4.2" height="4.2"/>
<rect x="1126.72" y="647" width="4.2" height="4.2"/>
<rect x="1138.60" y="647" width="4.2" height="4.2"/>
<rect x="1150.48" y="647" width="4.2" height="4.2"/>
<rect x="1162.36" y="647" width="4.2" height="4.2"/>
<rect x="1174.24" y="647" width="4.2" height="4.2"/>
<rect x="1186.12" y="647" width="4.2" height="4.2"/>
<rect x="1198.00" y="647" width="4.2" height="4.2"/>
<rect x="1209.88" y="647" width="4.2" height="4.2"/>
<rect x="1221.76" y="647" width="4.2" height="4.2"/>
<rect x="1233.64" y="647" width="4.2" height="4.2"/>
<rect x="1245.52" y="647" width="4.2" height="4.2"/>
<rect x="1257.40" y="647" width="4.2" height="4.2"/>
<rect x="1269.28" y="647" width="4.2" height="4.2"/>
<rect x="1281.16" y="647" width="4.2" height="4.2"/>
<rect x="1293.04" y="647" width="4.2" height="4.2"/>
<rect x="1304.92" y="647" width="4.2" height="4.2"/>
<rect x="1316.80" y="647" width="4.2" height="4.2"/>
<rect x="1328.68" y="647" width="4.2" height="4.2"/>
<rect x="1340.56" y="647" width="4.2" height="4.2"/>
<rect x="1352.44" y="647" width="4.2" height="4.2"/>
<rect x="1364.32" y="647" width="4.2" height="4.2"/>
<rect x="1376.20" y="647" width="4.2" height="4.2"/>
<rect x="1388.08" y="647" width="4.2" height="4.2"/>
<rect x="1399.96" y="647" width="4.2" height="4.2"/>
<rect x="1411.84" y="647" width="4.2" height="4.2"/>
</g>
<g font-family="'Liberation Sans', sans-serif" font-size="12.5" fill="#a8a8a8" stroke="#a8a8a8" stroke-width="0.3">
<text x="1432" y="88.1" textLength="47.8" lengthAdjust="spacingAndGlyphs">20.00000</text>
<text x="1432" y="140.7" textLength="47.8" lengthAdjust="spacingAndGlyphs">19.80000</text>
<text x="1432" y="193.4" textLength="47.8" lengthAdjust="spacingAndGlyphs">19.60000</text>
<text x="1432" y="246.0" textLength="47.8" lengthAdjust="spacingAndGlyphs">19.40000</text>
<text x="1432" y="298.6" textLength="47.8" lengthAdjust="spacingAndGlyphs">19.20000</text>
<text x="1432" y="351.2" textLength="47.8" lengthAdjust="spacingAndGlyphs">19.00000</text>
<text x="1432" y="403.9" textLength="47.8" lengthAdjust="spacingAndGlyphs">18.80000</text>
<text x="1432" y="456.5" textLength="47.8" lengthAdjust="spacingAndGlyphs">18.60000</text>
<text x="1432" y="509.1" textLength="47.8" lengthAdjust="spacingAndGlyphs">18.40000</text>
<text x="1432" y="561.8" textLength="47.8" lengthAdjust="spacingAndGlyphs">18.20000</text>
<text x="1432" y="614.4" textLength="47.8" lengthAdjust="spacingAndGlyphs">18.00000</text>
<text x="1432" y="667.0" textLength="47.8" lengthAdjust="spacingAndGlyphs">17.80000</text>
<text x="1432" y="719.7" textLength="47.8" lengthAdjust="spacingAndGlyphs">17.60000</text>
<text x="1432" y="772.3" textLength="47.8" lengthAdjust="spacingAndGlyphs">17.40000</text>
</g>
<g font-family="'Liberation Sans', sans-serif" font-size="12.3" fill="#a8a8a8" stroke="#a8a8a8" stroke-width="0.3" text-anchor="middle">
<text x="26.9" y="801.4" text-anchor="start" textLength="6.3" lengthAdjust="spacingAndGlyphs">3</text>
<text x="92.2" y="801.4" text-anchor="start" textLength="6.3" lengthAdjust="spacingAndGlyphs">6</text>
<text x="169.4" y="801.4" text-anchor="start" textLength="6.3" lengthAdjust="spacingAndGlyphs">9</text>
<text x="237.6" y="801.4" text-anchor="start" textLength="12.6" lengthAdjust="spacingAndGlyphs">11</text>
<text x="308.9" y="801.4" text-anchor="start" textLength="12.6" lengthAdjust="spacingAndGlyphs">15</text>
<text x="380.2" y="801.4" text-anchor="start" textLength="12.6" lengthAdjust="spacingAndGlyphs">17</text>
<text x="445.5" y="801.4" text-anchor="start" textLength="12.6" lengthAdjust="spacingAndGlyphs">20</text>
<text x="522.7" y="801.4" text-anchor="start" textLength="12.6" lengthAdjust="spacingAndGlyphs">23</text>
<text x="594.0" y="801.4" text-anchor="start" textLength="12.6" lengthAdjust="spacingAndGlyphs">25</text>
<text x="665.3" y="801.4" text-anchor="start" textLength="12.6" lengthAdjust="spacingAndGlyphs">29</text>
<text x="732.1" y="801.4" font-weight="bold" text-anchor="start" textLength="21.6" lengthAdjust="spacingAndGlyphs">May</text>
<text x="805.1" y="801.4" text-anchor="start" textLength="6.3" lengthAdjust="spacingAndGlyphs">4</text>
<text x="882.4" y="801.4" text-anchor="start" textLength="6.3" lengthAdjust="spacingAndGlyphs">7</text>
<text x="953.6" y="801.4" text-anchor="start" textLength="6.3" lengthAdjust="spacingAndGlyphs">9</text>
<text x="1021.8" y="801.4" text-anchor="start" textLength="12.6" lengthAdjust="spacingAndGlyphs">13</text>
<text x="1093.1" y="801.4" text-anchor="start" textLength="12.6" lengthAdjust="spacingAndGlyphs">15</text>
<text x="1158.4" y="801.4" text-anchor="start" textLength="12.6" lengthAdjust="spacingAndGlyphs">18</text>
<text x="1235.7" y="801.4" text-anchor="start" textLength="12.6" lengthAdjust="spacingAndGlyphs">21</text>
<text x="1307.0" y="801.4" text-anchor="start" textLength="12.6" lengthAdjust="spacingAndGlyphs">23</text>
<text x="1378.3" y="801.4" text-anchor="start" textLength="12.6" lengthAdjust="spacingAndGlyphs">27</text>
</g>
<rect x="1424" y="474.3" width="61" height="17" rx="1.8" fill="#f23645"/>
<text x="1432" y="487.4" font-family="'Liberation Sans', sans-serif" font-size="12.5" font-weight="bold" fill="#fff" textLength="47.8" lengthAdjust="spacingAndGlyphs">18.48707</text>
<rect x="1424" y="641" width="61" height="31" rx="1.8" fill="#f23645"/>
<text x="1432" y="654.1" font-family="'Liberation Sans', sans-serif" font-size="12.5" font-weight="bold" fill="#fff" textLength="47.8" lengthAdjust="spacingAndGlyphs">17.85444</text>
<text x="1432" y="668.1" font-family="'Liberation Sans', sans-serif" font-size="12.3" fill="#fff" fill-opacity="0.85" stroke="#fff" stroke-opacity="0.85" stroke-width="0.3" textLength="45.4" lengthAdjust="spacingAndGlyphs">02:45:03</text>
<rect x="1426.5" y="30.5" width="60" height="26.5" rx="4" fill="none" stroke="#454545" stroke-width="1.1"/>
<text x="1435.6" y="48.7" font-family="'Liberation Sans', sans-serif" font-size="12.2" fill="#d0d0d0" stroke="#d0d0d0" stroke-width="0.35" textLength="20.8" lengthAdjust="spacingAndGlyphs">ZAR</text>
<g font-family="'Liberation Sans', sans-serif" fill="#d0d0d0" stroke="#d0d0d0" stroke-width="0.3">
<text x="9.4" y="18.8" font-size="11.8" textLength="102.3" lengthAdjust="spacingAndGlyphs">XxXABACADEMYXxX</text>
<text x="115.6" y="18.8" font-size="11.8" textLength="50.3" lengthAdjust="spacingAndGlyphs">published</text>
<text x="170.0" y="18.8" font-size="11.8" textLength="13.2" lengthAdjust="spacingAndGlyphs">on</text>
<text x="186.6" y="18.8" font-size="11.8" textLength="93.0" lengthAdjust="spacingAndGlyphs">TradingView.com,</text>
<text x="283.5" y="18.8" font-size="11.8" textLength="20.2" lengthAdjust="spacingAndGlyphs">May</text>
<text x="307.6" y="18.8" font-size="11.8" textLength="16.4" lengthAdjust="spacingAndGlyphs">26,</text>
<text x="328.3" y="18.8" font-size="11.8" textLength="25.3" lengthAdjust="spacingAndGlyphs">2025</text>
<text x="358.2" y="18.8" font-size="11.8" textLength="28.5" lengthAdjust="spacingAndGlyphs">10:14</text>
<text x="390.2" y="18.8" font-size="11.8" textLength="22.1" lengthAdjust="spacingAndGlyphs">UTC</text>
</g>
<g font-family="'Liberation Sans', sans-serif" fill="#a9a9a9" stroke="#a9a9a9" stroke-width="0.45">
<text x="17.7" y="45.6" font-size="11.8" textLength="21.5" lengthAdjust="spacingAndGlyphs">U.S.</text>
<text x="43.3" y="45.6" font-size="11.8" textLength="31.1" lengthAdjust="spacingAndGlyphs">Dollar</text>
<text x="81.7" y="45.6" font-size="11.8" text-anchor="middle">/</text>
<text x="88.5" y="45.6" font-size="11.8" textLength="29.6" lengthAdjust="spacingAndGlyphs">South</text>
<text x="122.0" y="45.6" font-size="11.8" textLength="36.7" lengthAdjust="spacingAndGlyphs">African</text>
<text x="163.6" y="45.6" font-size="11.8" textLength="26.0" lengthAdjust="spacingAndGlyphs">Rand</text>
<circle cx="195.1" cy="42.0" r="1.15" stroke="none"/>
<text x="201.0" y="45.6" font-size="11.8" textLength="12.7" lengthAdjust="spacingAndGlyphs">4h</text>
<circle cx="220.1" cy="42.0" r="1.15" stroke="none"/>
<text x="225.5" y="45.6" font-size="11.8" textLength="28.5" lengthAdjust="spacingAndGlyphs">FXCM</text>
<text x="260.7" y="45.6" font-size="11.8" textLength="7.8" lengthAdjust="spacingAndGlyphs">O</text>
<text x="323.7" y="45.6" font-size="11.8" textLength="8.3" lengthAdjust="spacingAndGlyphs">H</text>
<text x="387.1" y="45.6" font-size="11.8" textLength="6.1" lengthAdjust="spacingAndGlyphs">L</text>
<text x="447.9" y="45.6" font-size="11.8" textLength="7.2" lengthAdjust="spacingAndGlyphs">C</text>
<text x="268.8" y="45.6" font-size="11.8" fill="#f23645" stroke="#f23645" textLength="48.2" lengthAdjust="spacingAndGlyphs">17.87918</text>
<text x="332.2" y="45.6" font-size="11.8" fill="#f23645" stroke="#f23645" textLength="47.6" lengthAdjust="spacingAndGlyphs">17.88472</text>
<text x="393.5" y="45.6" font-size="11.8" fill="#f23645" stroke="#f23645" textLength="47.7" lengthAdjust="spacingAndGlyphs">17.85052</text>
<text x="455.3" y="45.6" font-size="11.8" fill="#f23645" stroke="#f23645" textLength="47.8" lengthAdjust="spacingAndGlyphs">17.85444</text>
<text x="510.8" y="45.6" font-size="11.8" fill="#f23645" stroke="#f23645" textLength="47.7" lengthAdjust="spacingAndGlyphs">−0.02474</text>
<text x="563.1" y="45.6" font-size="11.8" fill="#f23645" stroke="#f23645" textLength="43.9" lengthAdjust="spacingAndGlyphs">(−0.14%)</text>
<text x="17.6" y="62.3" font-size="11.8" textLength="31.7" lengthAdjust="spacingAndGlyphs">Pivots</text>
<text x="52.8" y="62.3" font-size="11.8" textLength="58.7" lengthAdjust="spacingAndGlyphs">(Fibonacci,</text>
<text x="115.2" y="62.3" font-size="11.8" textLength="28.8" lengthAdjust="spacingAndGlyphs">Auto)</text>
<text x="17.6" y="79.1" font-size="11.8" textLength="22.1" lengthAdjust="spacingAndGlyphs">SMA</text>
<text x="42.7" y="79.1" font-size="11.8" textLength="27.2" lengthAdjust="spacingAndGlyphs">(200,</text>
<text x="73.1" y="79.1" font-size="11.8" textLength="31.7" lengthAdjust="spacingAndGlyphs">close)</text>
<text x="112.8" y="79.1" font-size="11.8" fill="#f23645" stroke="#f23645" textLength="47.5" lengthAdjust="spacingAndGlyphs">18.48707</text>
<text x="17.6" y="96.1" font-size="11.8" textLength="22.1" lengthAdjust="spacingAndGlyphs">SMA</text>
<text x="42.7" y="96.1" font-size="11.8" textLength="21.6" lengthAdjust="spacingAndGlyphs">(55,</text>
<text x="67.2" y="96.1" font-size="11.8" textLength="35.7" lengthAdjust="spacingAndGlyphs">close):</text>
<text x="106.4" y="96.1" font-size="11.8" textLength="60.0" lengthAdjust="spacingAndGlyphs">Calculation</text>
<text x="170.1" y="96.1" font-size="11.8" textLength="34.4" lengthAdjust="spacingAndGlyphs">failed.</text>
<text x="208.6" y="96.1" font-size="11.8" textLength="40.8" lengthAdjust="spacingAndGlyphs">Remove</text>
<text x="253.6" y="96.1" font-size="11.8" textLength="17.0" lengthAdjust="spacingAndGlyphs">the</text>
<text x="274.8" y="96.1" font-size="11.8" textLength="30.0" lengthAdjust="spacingAndGlyphs">script</text>
<text x="308.5" y="96.1" font-size="11.8" textLength="19.7" lengthAdjust="spacingAndGlyphs">and</text>
<text x="331.9" y="96.1" font-size="11.8" textLength="38.6" lengthAdjust="spacingAndGlyphs">reapply</text>
<text x="375.1" y="96.1" font-size="11.8" textLength="7.5" lengthAdjust="spacingAndGlyphs">it</text>
<text x="386.8" y="96.1" font-size="11.8" textLength="10.7" lengthAdjust="spacingAndGlyphs">to</text>
<text x="401.2" y="96.1" font-size="11.8" textLength="17.0" lengthAdjust="spacingAndGlyphs">the</text>
<text x="422.8" y="96.1" font-size="11.8" textLength="31.9" lengthAdjust="spacingAndGlyphs">chart.</text>
<text x="17.6" y="112.7" font-size="11.8" textLength="22.1" lengthAdjust="spacingAndGlyphs">SMA</text>
<text x="42.7" y="112.7" font-size="11.8" textLength="27.2" lengthAdjust="spacingAndGlyphs">(100,</text>
<text x="73.1" y="112.7" font-size="11.8" textLength="35.7" lengthAdjust="spacingAndGlyphs">close):</text>
<text x="112.3" y="112.7" font-size="11.8" textLength="60.0" lengthAdjust="spacingAndGlyphs">Calculation</text>
<text x="176.0" y="112.7" font-size="11.8" textLength="34.4" lengthAdjust="spacingAndGlyphs">failed.</text>
<text x="214.7" y="112.7" font-size="11.8" textLength="40.7" lengthAdjust="spacingAndGlyphs">Remove</text>
<text x="259.7" y="112.7" font-size="11.8" textLength="17.0" lengthAdjust="spacingAndGlyphs">the</text>
<text x="280.9" y="112.7" font-size="11.8" textLength="30.0" lengthAdjust="spacingAndGlyphs">script</text>
<text x="314.6" y="112.7" font-size="11.8" textLength="19.7" lengthAdjust="spacingAndGlyphs">and</text>
<text x="338.0" y="112.7" font-size="11.8" textLength="38.6" lengthAdjust="spacingAndGlyphs">reapply</text>
<text x="381.2" y="112.7" font-size="11.8" textLength="7.5" lengthAdjust="spacingAndGlyphs">it</text>
<text x="392.9" y="112.7" font-size="11.8" textLength="10.7" lengthAdjust="spacingAndGlyphs">to</text>
<text x="407.3" y="112.7" font-size="11.8" textLength="17.0" lengthAdjust="spacingAndGlyphs">the</text>
<text x="428.9" y="112.7" font-size="11.8" textLength="31.9" lengthAdjust="spacingAndGlyphs">chart.</text>
</g>
<g fill="none" stroke="#ab47bc" stroke-width="1.75">
<path d="M1370.07,768.14 A9.7,9.7 0 1 1 1364.22,762.18"/>
</g>
<polygon points="1363.62,765.98 1356.60,771.53 1360.43,771.92 1357.43,777.02 1365.28,770.96 1361.38,770.51" fill="#b24cc4" stroke="#ab47bc" stroke-width="0.15" stroke-linejoin="round"/>
<circle cx="1367.7" cy="764.4" r="2.8" fill="#f23645"/>
<circle cx="1396.0" cy="770.85" r="10.2" fill="none" stroke="#f23645" stroke-width="1.9"/>
<clipPath id="fc"><circle cx="1396.0" cy="770.85" r="8.2"/></clipPath>
<g clip-path="url(#fc)">
<rect x="1387.0" y="761.85" width="18" height="18" fill="#fff"/>
<rect x="1387.0" y="762.43" width="18" height="3.99" fill="#f0504a"/>
<rect x="1387.0" y="768.97" width="18" height="3.83" fill="#f0504a"/>
<rect x="1387.0" y="775.35" width="18" height="3.99" fill="#f0504a"/>
<rect x="1387.0" y="761.85" width="10.92" height="10.95" fill="#2a84e8"/>
<rect x="1389.70" y="764.69" width="0.8" height="0.9" fill="#dbe9fb"/>
<rect x="1389.70" y="767.31" width="0.8" height="0.9" fill="#dbe9fb"/>
<rect x="1389.70" y="769.96" width="0.8" height="0.9" fill="#dbe9fb"/>
<rect x="1392.41" y="764.69" width="0.8" height="0.9" fill="#dbe9fb"/>
<rect x="1392.41" y="767.31" width="0.8" height="0.9" fill="#dbe9fb"/>
<rect x="1392.41" y="769.96" width="0.8" height="0.9" fill="#dbe9fb"/>
<rect x="1395.12" y="764.69" width="0.8" height="0.9" fill="#dbe9fb"/>
<rect x="1395.12" y="767.31" width="0.8" height="0.9" fill="#dbe9fb"/>
<rect x="1395.12" y="769.96" width="0.8" height="0.9" fill="#dbe9fb"/>
</g>
<g fill="#d0d0d0" transform="translate(10,821.05) scale(0.541)">
<path d="M14 22H7V11H0V4h14v18zM28 22h-8l7.5-18h8L28 22z"/><circle cx="20" cy="8" r="4"/>
</g>
<text x="32.6" y="833" font-family="'Liberation Sans', sans-serif" font-size="13" font-weight="bold" fill="#d0d0d0" textLength="69.8" lengthAdjust="spacingAndGlyphs">TradingView</text>
</svg>
</body></html>
